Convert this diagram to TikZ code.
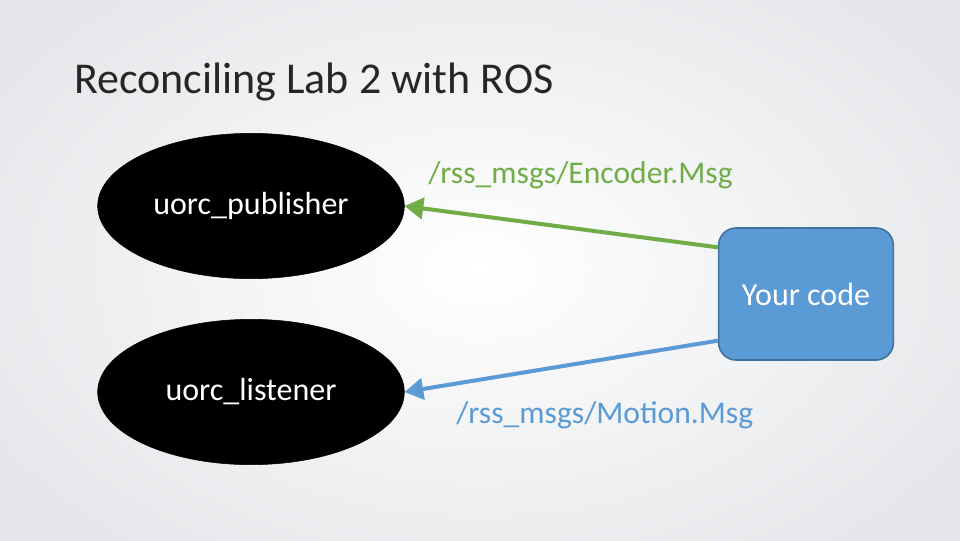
\documentclass[tikz,border=0pt]{standalone}
\usepackage{fontspec}
\setmainfont{Carlito}
\usetikzlibrary{shapes.geometric,arrows.meta}
\definecolor{topicgreen}{HTML}{70AD47}
\definecolor{topicblue}{HTML}{5B9BD5}
\definecolor{boxedge}{HTML}{41719C}
\definecolor{titlegray}{HTML}{262626}
\definecolor{slideedge}{HTML}{E4E6E9}
\tikzset{
  rosnode/.style={draw=black,fill=black,ellipse,minimum width=230pt,minimum height=109pt,text=white,font=\fontsize{24}{28}\selectfont},
  topic/.style={line width=3pt,-{Triangle[length=14pt,width=16pt]}},
  topiclabel/.style={anchor=west,inner sep=0pt,font=\fontsize{23.7}{28}\selectfont}
}
\begin{document}
\begin{tikzpicture}[x=0.75pt,y=-0.75pt]
            \useasboundingbox (0,0) rectangle (960,540);
            \shade[inner color=white,outer color=slideedge] (-100,-100) rectangle (1060,640);
            \node[anchor=base west,inner sep=0pt,text=titlegray,font=\fontsize{33}{40}\selectfont] (T) at (74,93) {Reconciling Lab 2 with ROS};
            \node[rosnode] (A) at (251,206) {uorc\_publisher};
            \node[rosnode] (B) at (251,392) {uorc\_listener};
            \node[draw=boxedge,line width=1.2pt,fill=topicblue,rounded corners=13pt,minimum width=131pt,minimum height=99pt,text=white,font=\fontsize{24}{28}\selectfont] (C) at (806,294) {Your code};
            \node[topiclabel,text=topicgreen] (E) at (428,175) {/rss\_msgs/Encoder.Msg};
            \node[topiclabel,text=topicblue] (M) at (456,415) {/rss\_msgs/Motion.Msg};
            \draw[topic,draw=topicgreen,fill=topicgreen] ([yshift=35pt]C.west) -- (A.east);
            \draw[topic,draw=topicblue,fill=topicblue] ([yshift=-35pt]C.west) -- (B.east);
        \end{tikzpicture}
\end{document}
